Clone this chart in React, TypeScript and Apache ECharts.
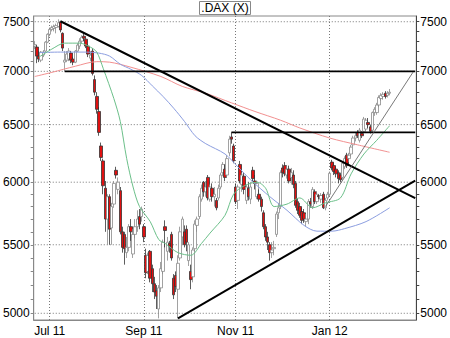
import React, { useEffect, useRef } from 'react';
import * as echarts from 'echarts';

// ---- data ----
const START_DATE = '2011-06-22';
const N_CATEGORIES = 179; // trading-day slots shown on the x axis
const monthTickIdx = [7, 51, 94, 138];
const monthTickLabels = ['Jul 11', 'Sep 11', 'Nov 11', 'Jan 12'];
const priceLabels = [5000, 5500, 6000, 6500, 7000, 7500];
const minorTicks = [5000, 5100, 5200, 5300, 5400, 5500, 5600, 5700, 5800, 5900, 6000, 6100, 6200, 6300, 6400, 6500, 6600, 6700, 6800, 6900, 7000, 7100, 7200, 7300, 7400, 7500];

// [open, close, low, high]
const ohlc: number[][] = [
  [7250, 7265, 7220, 7300], [7240, 7150, 7080, 7260], [7150, 7120, 7090, 7200], [7110, 7190, 7090, 7200],
  [7160, 7190, 7140, 7210], [7200, 7290, 7190, 7300], [7290, 7370, 7280, 7380], [7370, 7420, 7350, 7440],
  [7420, 7440, 7400, 7460], [7430, 7450, 7400, 7470], [7440, 7460, 7380, 7480], [7450, 7490, 7440, 7525],
  [7495, 7415, 7390, 7500], [7380, 7230, 7200, 7390], [7090, 7110, 7000, 7200], [7110, 7170, 7090, 7200],
  [7120, 7200, 7100, 7230], [7180, 7110, 7080, 7200], [7120, 7090, 7060, 7140], [7090, 7200, 7080, 7210],
  [7200, 7260, 7190, 7280], [7250, 7300, 7220, 7330], [7300, 7340, 7280, 7360], [7350, 7330, 7300, 7385],
  [7320, 7250, 7230, 7330], [7250, 7170, 7140, 7270], [7130, 7160, 7100, 7200], [7200, 6980, 6960, 7230],
  [6920, 6800, 6770, 6960], [6760, 6640, 6600, 6800], [6620, 6430, 6400, 6660], [6310, 6210, 6180, 6340],
  [6180, 5970, 5900, 6200], [5950, 5700, 5600, 6010], [5700, 5880, 5500, 5900], [5880, 5620, 5500, 5900],
  [5630, 5800, 5500, 5830], [5820, 5990, 5790, 6010], [6100, 6060, 6030, 6130], [5940, 6000, 5900, 6040],
  [5930, 5600, 5580, 5960], [5600, 5480, 5440, 5640], [5580, 5470, 5350, 5600], [5440, 5480, 5400, 5560],
  [5480, 5640, 5450, 5660], [5640, 5600, 5530, 5700], [5430, 5580, 5400, 5620], [5580, 5640, 5550, 5700],
  [5640, 5700, 5600, 5770], [5720, 5660, 5620, 5780], [5720, 5780, 5680, 5800], [5640, 5560, 5520, 5660],
  [5420, 5290, 5250, 5470], [5300, 5420, 5280, 5440], [5450, 5250, 5220, 5460], [5320, 5210, 5150, 5350],
  [5210, 5150, 5100, 5260], [5160, 5120, 5030, 5200], [5030, 5180, 4965, 5200], [5180, 5320, 5150, 5370],
  [5300, 5520, 5280, 5540], [5640, 5610, 5480, 5690], [5450, 5520, 5380, 5560], [5510, 5490, 5440, 5530],
  [5580, 5400, 5380, 5600], [5250, 5130, 5100, 5280], [5270, 5190, 5150, 5300], [5170, 5360, 4965, 5420],
  [5400, 5600, 5380, 5640], [5560, 5700, 5500, 5720], [5600, 5500, 5480, 5650], [5620, 5520, 5450, 5650],
  [5380, 5500, 5340, 5520], [5300, 5240, 5170, 5350], [5260, 5460, 5220, 5480], [5470, 5660, 5450, 5690],
  [5650, 5700, 5600, 5720], [5720, 5880, 5700, 5900], [5860, 5950, 5840, 5980], [6000, 5920, 5880, 6010],
  [5920, 5960, 5880, 6010], [6040, 5870, 5850, 6060], [5860, 5960, 5840, 5980], [5950, 5880, 5840, 5990],
  [5880, 5900, 5800, 5960], [5850, 5790, 5770, 5870], [5870, 5950, 5850, 5980], [5960, 6060, 5940, 6080],
  [6080, 6150, 6050, 6170], [6110, 6040, 6010, 6150], [6060, 6200, 6040, 6230], [6250, 6370, 6220, 6400],
  [6390, 6370, 6330, 6430], [6310, 6180, 6160, 6330], [5960, 5840, 5820, 5990], [5850, 5960, 5780, 5980],
  [6150, 6010, 5990, 6180], [5980, 6060, 5920, 6080], [6050, 5940, 5900, 6080], [5850, 5960, 5820, 5980],
  [5950, 5880, 5850, 6000], [5860, 5960, 5820, 6000], [6100, 6030, 6000, 6130], [6010, 5990, 5940, 6060],
  [5880, 5990, 5860, 6010], [5900, 5860, 5840, 5940], [5860, 5800, 5760, 5880], [5750, 5640, 5620, 5770],
  [5640, 5560, 5530, 5660], [5560, 5520, 5460, 5600], [5500, 5440, 5380, 5520], [5440, 5460, 5400, 5520],
  [5470, 5480, 5420, 5530], [5580, 5740, 5560, 5760], [5750, 5790, 5700, 5830], [5800, 6080, 5780, 6100],
  [6120, 6080, 6040, 6150], [6140, 6070, 6050, 6170], [6060, 6110, 6030, 6140], [6110, 6010, 5990, 6140],
  [6040, 6080, 5980, 6120], [6060, 5980, 5950, 6100], [5990, 5810, 5790, 6010], [5840, 5770, 5740, 5870],
  [5800, 5730, 5710, 5830], [5760, 5690, 5660, 5790], [5750, 5700, 5670, 5780], [5680, 5700, 5640, 5740],
  [5700, 5840, 5660, 5860], [5840, 5820, 5790, 5870], [5800, 5940, 5780, 5960], [5920, 5840, 5820, 5940],
  [5840, 5900, 5820, 5920], [5890, 5880, 5860, 5900], [5860, 5890, 5830, 5910], [5900, 5790, 5780, 5920],
  [5790, 5850, 5770, 5870], [5870, 5900, 5850, 5920], [5900, 6075, 5880, 6090], [6170, 6120, 6100, 6190],
  [6140, 6090, 6060, 6160], [6110, 6070, 6040, 6130], [6080, 6030, 5990, 6100], [6060, 6020, 6000, 6080],
  [6040, 6160, 6020, 6170], [6130, 6200, 6110, 6220], [6230, 6140, 6120, 6250], [6200, 6230, 6170, 6250],
  [6240, 6300, 6220, 6320], [6320, 6380, 6300, 6400], [6380, 6400, 6350, 6430], [6430, 6400, 6380, 6450],
  [6360, 6450, 6340, 6470], [6420, 6400, 6380, 6440], [6440, 6550, 6420, 6570], [6460, 6540, 6440, 6560],
  [6520, 6500, 6470, 6560], [6480, 6440, 6420, 6500], [6450, 6610, 6430, 6620], [6610, 6640, 6580, 6660],
  [6610, 6680, 6590, 6700], [6680, 6750, 6660, 6770], [6740, 6770, 6720, 6790], [6760, 6780, 6730, 6800],
  [6790, 6760, 6740, 6810], [6770, 6790, 6750, 6810], [6790, 6800, 6770, 6830],
];

// moving averages: [slot index, value]
const maShort: number[][] = [
  [2, 7140], [8, 7220], [14, 7280], [21, 7280], [26, 7240], [29, 7190], [32, 7030], [37, 6740], [40, 6530],
  [43, 6200], [46, 5960], [49, 5800], [54, 5680], [58, 5540], [61, 5510], [67, 5440], [73, 5420], [78, 5510],
  [82, 5590], [89, 5730], [93, 5900], [98, 5970], [104, 6000], [108, 5950], [112, 5800], [118, 5820],
  [124, 5870], [130, 5790], [136, 5830], [143, 5870], [148, 6070], [154, 6240], [160, 6360], [166, 6490],
];
const maMid: number[][] = [
  [2, 7185], [12, 7190], [24, 7190], [30, 7180], [35, 7150], [40, 7070], [45, 7020], [50, 6960], [55, 6860],
  [60, 6760], [65, 6650], [70, 6530], [75, 6400], [80, 6330], [89, 6240], [95, 6130], [101, 6020],
  [110, 5880], [118, 5770], [126, 5650], [132, 5605], [139, 5605], [145, 5625], [155, 5680], [166, 5790],
];
const maLong: number[][] = [
  [0, 6950], [8, 6990], [19, 7050], [29, 7095], [35, 7090], [45, 7040], [59, 6950], [69, 6855], [80, 6790],
  [92, 6700], [103, 6620], [115, 6540], [124, 6470], [138, 6380], [151, 6320], [166, 6255],
];

// drawn trend lines and levels: [slot index, value]
const trendDown: number[][] = [[12, 7505], [178, 5868]];
const trendUp: number[][] = [[67, 4965], [178, 6013]];
const level7000: number[][] = [[14, 7000], [178, 7000]];
const level6430: number[][] = [[92, 6430], [178, 6430]];
const channelLine: number[][] = [[136, 5800], [177, 6993]];

function buildCategories(): string[] {
  const out: string[] = [];
  const d = new Date(START_DATE + 'T00:00:00Z');
  while (out.length < N_CATEGORIES) {
    const wd = d.getUTCDay();
    if (wd !== 0 && wd !== 6) out.push(d.toISOString().slice(0, 10));
    d.setUTCDate(d.getUTCDate() + 1);
  }
  return out;
}

const L = Math.log;
const toLn = (pts: number[][]) => pts.map(([i, v]) => [i, L(v)]);

export default function App() {
  const ref = useRef<HTMLDivElement>(null);
  useEffect(() => {
    if (!ref.current) return;
    const chart = echarts.init(ref.current, undefined, { renderer: 'svg' });
    const categories = buildCategories();
    const tickSet = new Set(monthTickIdx);
    const labelMap: Record<number, string> = {};
    monthTickIdx.forEach((i, k) => (labelMap[i] = monthTickLabels[k]));
    const yMin = L(4953.6);
    const yMax = L(7560);
    const labelsLn = priceLabels.map(L);
    const minorLn = minorTicks.map(L);
    const fmt = (v: number) => String(Math.round(Math.exp(v)));
    const font = 'Liberation Sans, Arial, sans-serif';
    const yBase = { type: 'value', min: yMin, max: yMax, scale: true };
    const gridStyle = { type: [1, 2], color: '#777', width: 1 };
    const lastSlot = N_CATEGORIES - 1;
    const lineSeries = (data: number[][], color: string, width: number, z = 4) => ({
      type: 'line', data: toLn(data), symbol: 'none', silent: true, z,
      lineStyle: { color, width }, itemStyle: { color },
    });
    const smoothSeries = (data: number[][], color: string) => ({
      type: 'line', data: toLn(data), symbol: 'none', silent: true, smooth: 0.3, z: 3,
      lineStyle: { color, width: 1 }, itemStyle: { color },
    });
    const hGrid = priceLabels.map((p) => ({
      type: 'line', data: toLn([[0, p], [lastSlot, p]]), symbol: 'none', silent: true, z: 1,
      lineStyle: gridStyle, itemStyle: { color: '#777' },
    }));

    chart.setOption({
      animation: false,
      backgroundColor: '#fff',
      textStyle: { fontFamily: font },
      title: {
        text: '.DAX (X)', left: 'center', top: 1, padding: [0, 2],
        borderColor: '#888', borderWidth: 1, backgroundColor: '#fff',
        textStyle: { fontSize: 12, fontWeight: 'normal', color: '#000', fontFamily: font, lineHeight: 14 },
      },
      grid: { left: 32, right: 32, top: 16, bottom: 18, show: true, borderColor: '#888', borderWidth: 1 },
      xAxis: {
        type: 'category', data: categories, boundaryGap: true,
        axisLine: { lineStyle: { color: '#888' } },
        axisTick: { alignWithLabel: true, interval: (i: number) => tickSet.has(i), length: 3, lineStyle: { color: '#888' } },
        axisLabel: {
          interval: (i: number) => tickSet.has(i), formatter: (_v: string, i: number) => labelMap[i] || '',
          color: '#000', fontSize: 12, margin: 5, fontFamily: font,
        },
        splitLine: { show: false },
      },
      yAxis: [
        {
          ...yBase, position: 'left',
          axisLine: { show: true, lineStyle: { color: '#888' } },
          axisTick: { show: true, customValues: minorLn, length: 3, lineStyle: { color: '#888' } },
          axisLabel: { customValues: labelsLn, formatter: fmt, color: '#000', fontSize: 12, margin: 4, fontFamily: font },
          splitLine: { show: false },
        },
        {
          ...yBase, position: 'right',
          axisLine: { show: true, lineStyle: { color: '#444' } },
          axisTick: { show: true, customValues: minorLn, length: 3, lineStyle: { color: '#444' } },
          axisLabel: { customValues: labelsLn, formatter: fmt, color: '#000', fontSize: 12, margin: 4, fontFamily: font },
          splitLine: { show: false },
        },
      ],
      series: [
        ...hGrid,
        {
          type: 'candlestick', silent: true, z: 2,
          data: ohlc.map((r) => r.map(L)),
          barWidth: 3,
          itemStyle: { color: '#fff', color0: '#e01010', borderColor: '#8a8a8a', borderColor0: '#333', borderWidth: 0.8 },
          markLine: {
            z: 1, silent: true, symbol: 'none', label: { show: false },
            lineStyle: gridStyle,
            data: monthTickIdx.map((i) => ({ xAxis: categories[i] })),
          },
        },
        smoothSeries(maLong, '#f29090'),
        smoothSeries(maMid, '#8c9ee0'),
        smoothSeries(maShort, '#6cc08a'),
        lineSeries(trendDown, '#000', 2),
        lineSeries(trendUp, '#000', 2),
        lineSeries(level7000, '#000', 1.6),
        lineSeries(level6430, '#000', 1.6),
        lineSeries(channelLine, '#555', 0.8),
      ],
    });
    return () => chart.dispose();
  }, []);
  return <div ref={ref} style={{ position: 'fixed', left: 0, top: 0, width: 450, height: 338 }} />;
}
